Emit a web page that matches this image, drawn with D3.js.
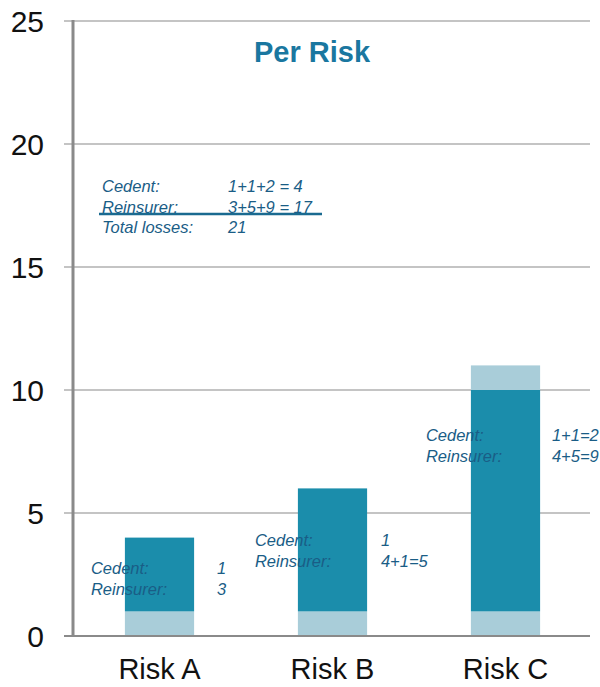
<!DOCTYPE html>
<html>
<head>
<meta charset="utf-8">
<script src="https://cdn.jsdelivr.net/npm/d3@7"></script>
<style>
  html, body { margin: 0; padding: 0; background: #fff; }
  svg { display: block; font-family: "Liberation Sans", Arial, sans-serif; }
</style>
</head>
<body>
<svg id="chart" width="600" height="687"></svg>
<script>
// data
const categories = ["Risk A", "Risk B", "Risk C"];
const retention = [1, 1, 1];          // light base segment
const reinsured = [3, 5, 9];          // dark middle segment
const topRetention = [0, 0, 1];       // light top segment
const yTicks = [0, 5, 10, 15, 20, 25];

// per-bar annotations: [label, value]
const noteRows = [
  [["Cedent:", "1"], ["Reinsurer:", "3"]],
  [["Cedent:", "1"], ["Reinsurer:", "4+1=5"]],
  [["Cedent:", "1+1=2"], ["Reinsurer:", "4+5=9"]]
];
const summaryRows = [["Cedent:", "1+1+2 = 4"], ["Reinsurer:", "3+5+9 = 17"], ["Total losses:", "21"]];

// where each note block sits (value-space y, x offset from bar)
const noteAnchor = [{ v: 2.52, dx: -34 }, { v: 3.66, dx: -43 }, { v: 7.93, dx: -45 }];

const svg = d3.select("#chart");

const x = d3.scaleBand().domain(categories).range([73, 592]).paddingInner(0.6).paddingOuter(0.3);
const y = d3.scaleLinear().domain([0, 25]).range([636, 21]);

const darkC = "#1b8dab", lightC = "#a9cdd9", textC = "#1a5d86";

// gridlines
svg.append("g").selectAll("line").data(yTicks.filter(d => d > 0)).join("line")
  .attr("x1", 64).attr("x2", 590)
  .attr("y1", d => y(d)).attr("y2", d => y(d))
  .attr("stroke", "#c4c4c4").attr("stroke-width", 2);

// y tick labels
svg.append("g").selectAll("text").data(yTicks).join("text")
  .attr("x", 44).attr("y", d => y(d))
  .attr("dy", "0.36em")
  .attr("text-anchor", "end")
  .attr("font-size", 30).attr("fill", "#111")
  .text(d => d);

// stacked bars
const stacks = categories.map((c, i) => [
  { c, y0: 0, y1: retention[i], fill: lightC },
  { c, y0: retention[i], y1: retention[i] + reinsured[i], fill: darkC },
  { c, y0: retention[i] + reinsured[i], y1: retention[i] + reinsured[i] + topRetention[i], fill: lightC }
]).flat().filter(d => d.y1 > d.y0);

svg.append("g").selectAll("rect").data(stacks).join("rect")
  .attr("x", d => x(d.c)).attr("width", x.bandwidth())
  .attr("y", d => y(d.y1)).attr("height", d => y(d.y0) - y(d.y1))
  .attr("fill", d => d.fill);

// axes lines
svg.append("line").attr("x1", 73).attr("x2", 73).attr("y1", 20).attr("y2", 637)
  .attr("stroke", "#8a8a8a").attr("stroke-width", 3);
svg.append("line").attr("x1", 64).attr("x2", 590).attr("y1", y(0)).attr("y2", y(0))
  .attr("stroke", "#8a8a8a").attr("stroke-width", 2);

// category labels
svg.append("g").selectAll("text").data(categories).join("text")
  .attr("x", d => x(d) + x.bandwidth() / 2).attr("y", 679)
  .attr("text-anchor", "middle").attr("font-size", 29).attr("fill", "#111")
  .text(d => d);

// title
svg.append("text").attr("x", 312).attr("y", 62).attr("text-anchor", "middle")
  .attr("font-size", 29).attr("font-weight", "bold").attr("fill", "#1a77a0")
  .text("Per Risk");

// bar annotations
const noteG = svg.append("g").attr("font-size", 16.5).attr("font-style", "italic").attr("fill", textC);
noteRows.forEach((rows, i) => {
  const x0 = x(categories[i]) + noteAnchor[i].dx;
  rows.forEach((r, j) => {
    const yy = y(noteAnchor[i].v) + j * 21;
    noteG.append("text").attr("x", x0).attr("y", yy).text(r[0]);
    noteG.append("text").attr("x", x0 + 126).attr("y", yy).text(r[1]);
  });
});

// summary block
summaryRows.forEach((r, j) => {
  const yy = 192 + j * 20.5;
  noteG.append("text").attr("x", 102).attr("y", yy).text(r[0]);
  noteG.append("text").attr("x", 228).attr("y", yy).text(r[1]);
});
svg.append("line").attr("x1", 99).attr("x2", 322).attr("y1", 214).attr("y2", 214)
  .attr("stroke", "#1a6a90").attr("stroke-width", 2.5);
</script>
</body>
</html>
